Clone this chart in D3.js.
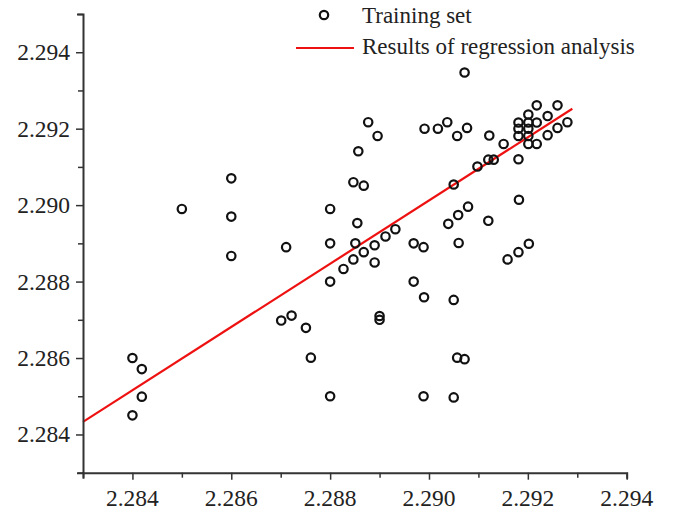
<!DOCTYPE html>
<html>
<head>
<meta charset="utf-8">
<script src="https://cdn.jsdelivr.net/npm/d3@7/dist/d3.min.js"></script>
<style>
  html, body { margin: 0; padding: 0; background: #fff; }
  svg { display: block; }
  text { font-family: "Liberation Serif", "Times New Roman", serif; fill: #222; }
</style>
</head>
<body>
<svg id="chart" width="677" height="514"></svg>
<script>
// Training samples: measured value (x) vs. reference value (y)
const trainX = [
  2.2840, 2.28419, 2.28419, 2.2840, 2.2850, 2.2860, 2.2860, 2.2860,
  2.28711, 2.28701, 2.28722, 2.28751, 2.28761, 2.2880, 2.2880, 2.28851,
  2.28912, 2.28932, 2.2889, 2.28868, 2.28847, 2.28827, 2.2889, 2.2880,
  2.28969, 2.28989, 2.28969, 2.2899, 2.2890, 2.2890, 2.28989, 2.28877,
  2.28896, 2.28857, 2.28847, 2.28868, 2.2880, 2.28855, 2.28991, 2.29018,
  2.29037, 2.29057, 2.29077, 2.29072, 2.29122, 2.29151, 2.29098, 2.2912,
  2.29131, 2.29181, 2.2905, 2.29182, 2.29079, 2.29059, 2.29039, 2.2912,
  2.2906, 2.29159, 2.29181, 2.29202, 2.2905, 2.29057, 2.29072, 2.2905,
  2.29181, 2.29181, 2.29181, 2.29201, 2.29201, 2.29201, 2.29201, 2.29201,
  2.29218, 2.29218, 2.29218, 2.2924, 2.2924, 2.2926, 2.2926, 2.2928
];
const trainY = [
  2.2860, 2.28571, 2.28499, 2.2845, 2.2899, 2.2907, 2.2897, 2.28867,
  2.2889, 2.28698, 2.28711, 2.28679, 2.28601, 2.2850, 2.2890, 2.2890,
  2.28918, 2.28937, 2.28895, 2.28877, 2.28858, 2.28833, 2.2885, 2.2880,
  2.2890, 2.2889, 2.2880, 2.28759, 2.2871, 2.2870, 2.2850, 2.29217,
  2.29181, 2.29141, 2.2906, 2.29051, 2.2899, 2.28953, 2.2920, 2.2920,
  2.29217, 2.29181, 2.29202, 2.29347, 2.29182, 2.2916, 2.29101, 2.29119,
  2.29119, 2.2912, 2.29054, 2.29014, 2.28996, 2.28974, 2.28951, 2.28959,
  2.28901, 2.28858, 2.28877, 2.28899, 2.28752, 2.28601, 2.28597, 2.28497,
  2.29216, 2.2920, 2.29181, 2.29237, 2.29216, 2.2920, 2.29181, 2.2916,
  2.29261, 2.29216, 2.2916, 2.29233, 2.29183, 2.29261, 2.29202, 2.29217
];

// Fitted regression line (end points)
const fitX = [2.2830, 2.2929];
const fitY = [2.28433, 2.29252];

// Axis ticks
const xTicks = [2.283, 2.284, 2.285, 2.286, 2.287, 2.288, 2.289, 2.290, 2.291, 2.292, 2.293, 2.294];
const yTicks = [2.283, 2.284, 2.285, 2.286, 2.287, 2.288, 2.289, 2.290, 2.291, 2.292, 2.293, 2.294, 2.295];
const xLabels = [2.284, 2.286, 2.288, 2.290, 2.292, 2.294];
const yLabels = [2.284, 2.286, 2.288, 2.290, 2.292, 2.294];

const legendLabels = ["Training set", "Results of regression analysis"];

const svg = d3.select("#chart");
const x = d3.scaleLinear().domain([2.283, 2.294]).range([83, 626.7]);
const y = d3.scaleLinear().domain([2.283, 2.295]).range([472.7, 14]);
const axisColor = "#333";
const markColor = "#111";
const fitColor = "#ee1111";
const fmt = d3.format(".3f");

// Regression line
svg.append("line")
  .attr("x1", x(fitX[0])).attr("y1", y(fitY[0]))
  .attr("x2", x(fitX[1])).attr("y2", y(fitY[1]))
  .attr("stroke", fitColor).attr("stroke-width", 2.2);

// Points
svg.append("g").selectAll("circle")
  .data(trainX.map((v, i) => [v, trainY[i]]))
  .join("circle")
  .attr("cx", d => x(d[0])).attr("cy", d => y(d[1]))
  .attr("r", 4.2)
  .attr("fill", "none").attr("stroke", markColor).attr("stroke-width", 2.2);

// Axes
const yAxis = svg.append("g").attr("transform", "translate(83,0)")
  .call(d3.axisLeft(y).tickValues(yTicks).tickFormat(""));
const xAxis = svg.append("g").attr("transform", "translate(0,472.7)")
  .call(d3.axisBottom(x).tickValues(xTicks).tickFormat(""));

[yAxis, xAxis].forEach(g => {
  g.select(".domain").attr("stroke", axisColor).attr("stroke-width", 2);
  g.selectAll(".tick line").attr("stroke", axisColor).attr("stroke-width", 1.5);
});
yAxis.selectAll(".tick line")
  .attr("x2", d => yLabels.some(v => Math.abs(v - d) < 1e-9) ? -7 : -5);
xAxis.selectAll(".tick line")
  .attr("y2", d => xLabels.some(v => Math.abs(v - d) < 1e-9) ? 7 : 5);

// Tick labels
svg.append("g").selectAll("text")
  .data(yLabels).join("text")
  .attr("x", 70).attr("y", d => y(d) + 8)
  .attr("text-anchor", "end").attr("font-size", 23.5)
  .text(d => fmt(d));
svg.append("g").selectAll("text")
  .data(xLabels).join("text")
  .attr("x", d => x(d)).attr("y", 506)
  .attr("text-anchor", "middle").attr("font-size", 23.5)
  .text(d => fmt(d));

// Legend
const legend = svg.append("g");
legend.append("circle")
  .attr("cx", 324).attr("cy", 15).attr("r", 4.2)
  .attr("fill", "none").attr("stroke", markColor).attr("stroke-width", 2.2);
legend.append("line")
  .attr("x1", 296).attr("x2", 354).attr("y1", 48).attr("y2", 48)
  .attr("stroke", fitColor).attr("stroke-width", 2.2);
legend.append("text").attr("x", 362).attr("y", 23).attr("font-size", 23).text(legendLabels[0]);
legend.append("text").attr("x", 362).attr("y", 54).attr("font-size", 23).text(legendLabels[1]);
</script>
</body>
</html>
